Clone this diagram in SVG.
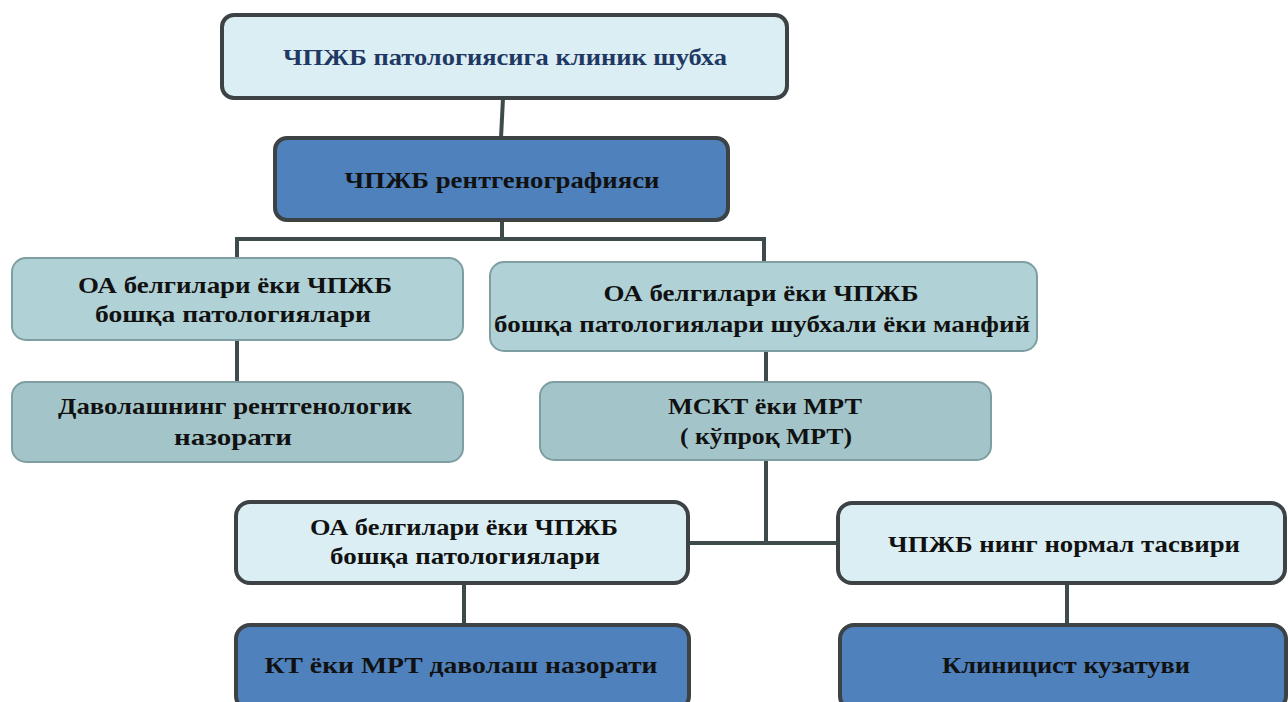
<svg xmlns="http://www.w3.org/2000/svg" width="1288" height="702" viewBox="0 0 1288 702">
<style>
.t{font-family:"Liberation Serif","Times New Roman",serif;font-weight:bold;font-size:24px;fill:#111;text-anchor:middle}
.light{fill:#daeef3;stroke:#3d4245;stroke-width:4}
.blue{fill:#4f81bd;stroke:#3d4245;stroke-width:4}
.teal{fill:#b0d2d6;stroke:#7f9ea2;stroke-width:2}
.teal2{fill:#a3c5c9;stroke:#7f9ea2;stroke-width:2}
.c{fill:none;stroke:#3f4a4d;stroke-width:4}
</style>
<rect width="1288" height="702" fill="#ffffff"/>
<g id="connectors">
<line class="c" x1="503" y1="98" x2="501" y2="138"/>
<polyline class="c" points="502,220 502,239 237,239 237,258"/>
<polyline class="c" points="502,239 764,239 764,262"/>
<line class="c" x1="237" y1="340" x2="237" y2="382"/>
<line class="c" x1="766" y1="351" x2="766" y2="382"/>
<line class="c" x1="766" y1="460" x2="766" y2="543"/>
<line class="c" x1="688" y1="543" x2="838" y2="543"/>
<line class="c" x1="464" y1="583" x2="464" y2="625"/>
<line class="c" x1="1067" y1="583" x2="1067" y2="625"/>
</g>
<g id="n1">
<rect class="light" x="222" y="15" width="565" height="83" rx="12"/>
<text class="t" x="505" y="65" style="fill:#1f3864" textLength="444" lengthAdjust="spacingAndGlyphs">ЧПЖБ патологиясига клиник шубха</text>
</g>
<g id="n2">
<rect class="blue" x="275" y="138" width="453" height="82" rx="12"/>
<text class="t" x="502" y="188" textLength="315" lengthAdjust="spacingAndGlyphs">ЧПЖБ рентгенографияси</text>
</g>
<g id="n3">
<rect class="teal" x="12" y="258" width="451" height="82" rx="14"/>
<text class="t" x="235" y="293" textLength="314" lengthAdjust="spacingAndGlyphs">ОА белгилари  ёки ЧПЖБ</text>
<text class="t" x="233" y="322" textLength="276" lengthAdjust="spacingAndGlyphs">бошқа патологиялари</text>
</g>
<g id="n4">
<rect class="teal" x="490" y="262" width="547" height="89" rx="14"/>
<text class="t" x="761" y="301" textLength="315" lengthAdjust="spacingAndGlyphs">ОА белгилари  ёки ЧПЖБ</text>
<text class="t" x="762" y="332" textLength="536" lengthAdjust="spacingAndGlyphs">бошқа патологиялари  шубхали ёки манфий</text>
</g>
<g id="n5">
<rect class="teal2" x="12" y="382" width="451" height="80" rx="14"/>
<text class="t" x="235" y="414" textLength="354" lengthAdjust="spacingAndGlyphs">Даволашнинг рентгенологик</text>
<text class="t" x="233" y="445" textLength="118" lengthAdjust="spacingAndGlyphs">назорати</text>
</g>
<g id="n6">
<rect class="teal2" x="540" y="382" width="451" height="78" rx="14"/>
<text class="t" x="765" y="414" textLength="194" lengthAdjust="spacingAndGlyphs">МСКТ ёки МРТ</text>
<text class="t" x="766" y="444" textLength="172" lengthAdjust="spacingAndGlyphs">( кўпроқ МРТ)</text>
</g>
<g id="n7">
<rect class="light" x="236" y="502" width="452" height="81" rx="14"/>
<text class="t" x="464" y="535" textLength="308" lengthAdjust="spacingAndGlyphs">ОА белгилари ёки ЧПЖБ</text>
<text class="t" x="465" y="564" textLength="270" lengthAdjust="spacingAndGlyphs">бошқа патологиялари</text>
</g>
<g id="n8">
<rect class="light" x="838" y="503" width="447" height="80" rx="14"/>
<text class="t" x="1064" y="552" textLength="352" lengthAdjust="spacingAndGlyphs">ЧПЖБ нинг нормал тасвири</text>
</g>
<g id="n9">
<rect class="blue" x="236" y="625" width="453" height="85" rx="14"/>
<text class="t" x="461" y="673" textLength="393" lengthAdjust="spacingAndGlyphs">КТ ёки  МРТ даволаш назорати</text>
</g>
<g id="n10">
<rect class="blue" x="840" y="625" width="446" height="85" rx="14"/>
<text class="t" x="1066" y="673" textLength="248" lengthAdjust="spacingAndGlyphs">Клиницист кузатуви</text>
</g>
</svg>
